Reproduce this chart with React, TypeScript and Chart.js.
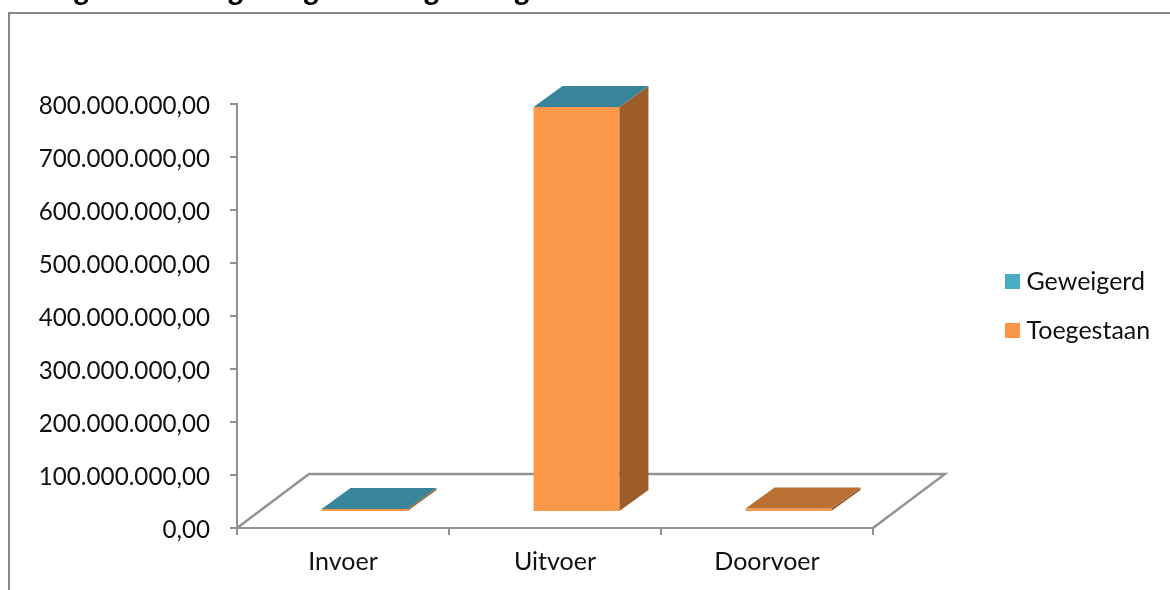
import React, { useEffect, useRef } from "react";
import { Chart, registerables } from "chart.js";

Chart.register(...registerables);

const titleText = "Toegekende en geweigerde vergunningen voor de invoer en uitvoer naar waarde";
const categories = ["Invoer", "Uitvoer", "Doorvoer"];
const toegestaan = [5500000, 764000000, 6500000];
const geweigerd = [200000, 300000, 0];
const seriesNames = ["Toegestaan", "Geweigerd"];
const frontColors = ["#FB984A", "#4BACC6"];
const topColors = ["#BA6F33", "#38849B"];
const sideColors = ["#9C5D2B", "#2F6F82"];
const legendColors = ["#F79646", "#4BACC6"];

const FONT = "Lato, 'Noto Sans', sans-serif";
const AXIS = "#929292";
const FRAME = "#868686";
const FLOOR_DX = 72;
const FLOOR_DY = 54;
const BAR_DX = 21.5;
const BAR_DY = 16;
const SIDE_DX = 29;
const SIDE_DY = 21;

function swatch(color: string) {
  const c = document.createElement("canvas");
  c.width = 15;
  c.height = 15;
  const x = c.getContext("2d")!;
  x.fillStyle = color;
  x.fillRect(0, 0, 15, 15);
  return c;
}

function poly(ctx: CanvasRenderingContext2D, pts: number[][], fill: string) {
  ctx.beginPath();
  pts.forEach((p, i) => (i ? ctx.lineTo(p[0], p[1]) : ctx.moveTo(p[0], p[1])));
  ctx.closePath();
  ctx.fillStyle = fill;
  ctx.fill();
}

const scene = {
  id: "scene",
  afterLayout(chart: any) {
    const l = chart.legend;
    l.left = 987;
    l.right = 1170;
    l.top = 245;
    l.bottom = 430;
  },
  beforeDraw(chart: any) {
    const ctx = chart.ctx;
    ctx.save();
    ctx.strokeStyle = FRAME;
    ctx.lineWidth = 2;
    ctx.beginPath();
    ctx.moveTo(9, 590);
    ctx.lineTo(9, 13);
    ctx.lineTo(1170, 13);
    ctx.stroke();
    ctx.font = "italic bold 31px " + FONT;
    ctx.fillStyle = "#000";
    ctx.textBaseline = "alphabetic";
    ctx.fillText(titleText, 30, 0);
    ctx.restore();
  },
  beforeDatasetsDraw(chart: any) {
    const ctx = chart.ctx;
    const { left, right, bottom } = chart.chartArea;
    ctx.save();
    ctx.strokeStyle = AXIS;
    ctx.lineWidth = 2.4;
    ctx.beginPath();
    ctx.moveTo(left, bottom);
    ctx.lineTo(left + FLOOR_DX, bottom - FLOOR_DY);
    ctx.lineTo(right + FLOOR_DX, bottom - FLOOR_DY);
    ctx.lineTo(right, bottom);
    ctx.stroke();
    ctx.restore();
    ctx.save();
    ctx.translate(BAR_DX, -BAR_DY);
  },
  afterDatasetsDraw(chart: any) {
    const ctx = chart.ctx;
    const topY: number[] = [];
    chart.data.datasets.forEach((_: any, d: number) => {
      chart.getDatasetMeta(d).data.forEach((el: any, i: number) => {
        const xr = el.x + el.width / 2;
        poly(
          ctx,
          [
            [xr, el.base],
            [xr + SIDE_DX, el.base - SIDE_DY],
            [xr + SIDE_DX, el.y - SIDE_DY],
            [xr, el.y],
          ],
          sideColors[d]
        );
        if (chart.data.datasets[d].data[i] > 0) topY[i] = d;
      });
    });
    categories.forEach((_, i) => {
      const d = topY[i];
      const el = chart.getDatasetMeta(d).data[i];
      const xl = el.x - el.width / 2;
      const xr = el.x + el.width / 2;
      poly(
        ctx,
        [
          [xl, el.y],
          [xl + SIDE_DX, el.y - SIDE_DY],
          [xr + SIDE_DX, el.y - SIDE_DY],
          [xr, el.y],
        ],
        topColors[d]
      );
    });
    ctx.restore();
  },
};

export default function App() {
  const ref = useRef<HTMLCanvasElement>(null);
  useEffect(() => {
    const chart = new Chart(ref.current!, {
      type: "bar",
      data: {
        labels: categories,
        datasets: [
          { label: seriesNames[0], data: toegestaan, backgroundColor: frontColors[0] },
          { label: seriesNames[1], data: geweigerd, backgroundColor: frontColors[1] },
        ],
      },
      plugins: [scene],
      options: {
        animation: false,
        responsive: false,
        devicePixelRatio: 1,
        layout: { padding: { left: 0, top: 104, right: 297, bottom: 0 } },
        datasets: { bar: { barPercentage: 0.405, categoryPercentage: 1 } },
        scales: {
          x: {
            stacked: true,
            offset: true,
            afterFit: (s: any) => {
              s.height = 62;
            },
            grid: {
              drawOnChartArea: false,
              offset: true,
              tickLength: 7,
              tickColor: AXIS,
              lineWidth: 2,
            },
            border: { color: AXIS, width: 2 },
            ticks: {
              color: "#111",
              padding: 12,
              maxRotation: 0,
              font: { family: FONT, size: 25 },
            },
          },
          y: {
            stacked: true,
            min: 0,
            max: 800000000,
            afterFit: (s: any) => {
              s.width = 237;
            },
            grid: { drawOnChartArea: false, tickLength: 7, tickColor: AXIS, lineWidth: 2 },
            border: { color: AXIS, width: 2 },
            ticks: {
              stepSize: 100000000,
              color: "#111",
              padding: 20,
              labelOffset: 2,
              font: { family: FONT, size: 24.2 },
              callback: (v: any) =>
                Number(v).toLocaleString("nl-NL", {
                  minimumFractionDigits: 2,
                  maximumFractionDigits: 2,
                }),
            },
          },
        },
        plugins: {
          title: { display: false },
          tooltip: { enabled: false },
          legend: {
            position: "chartArea",
            align: "start",
            reverse: true,
            labels: {
              color: "#111",
              font: { family: FONT, size: 25 },
              usePointStyle: true,
              pointStyleWidth: 3,
              padding: 24,
              generateLabels: (c: any) =>
                Chart.defaults.plugins.legend.labels.generateLabels(c).map((it: any) => ({
                  ...it,
                  pointStyle: swatch(legendColors[it.datasetIndex]),
                })),
            },
          },
        },
      },
    } as any);
    return () => chart.destroy();
  }, []);
  return (
    <div style={{ position: "fixed", left: 0, top: 0, width: 1170, height: 590, overflow: "hidden", background: "#fff" }}>
      <canvas ref={ref} width={1170} height={590} style={{ display: "block" }} />
    </div>
  );
}
